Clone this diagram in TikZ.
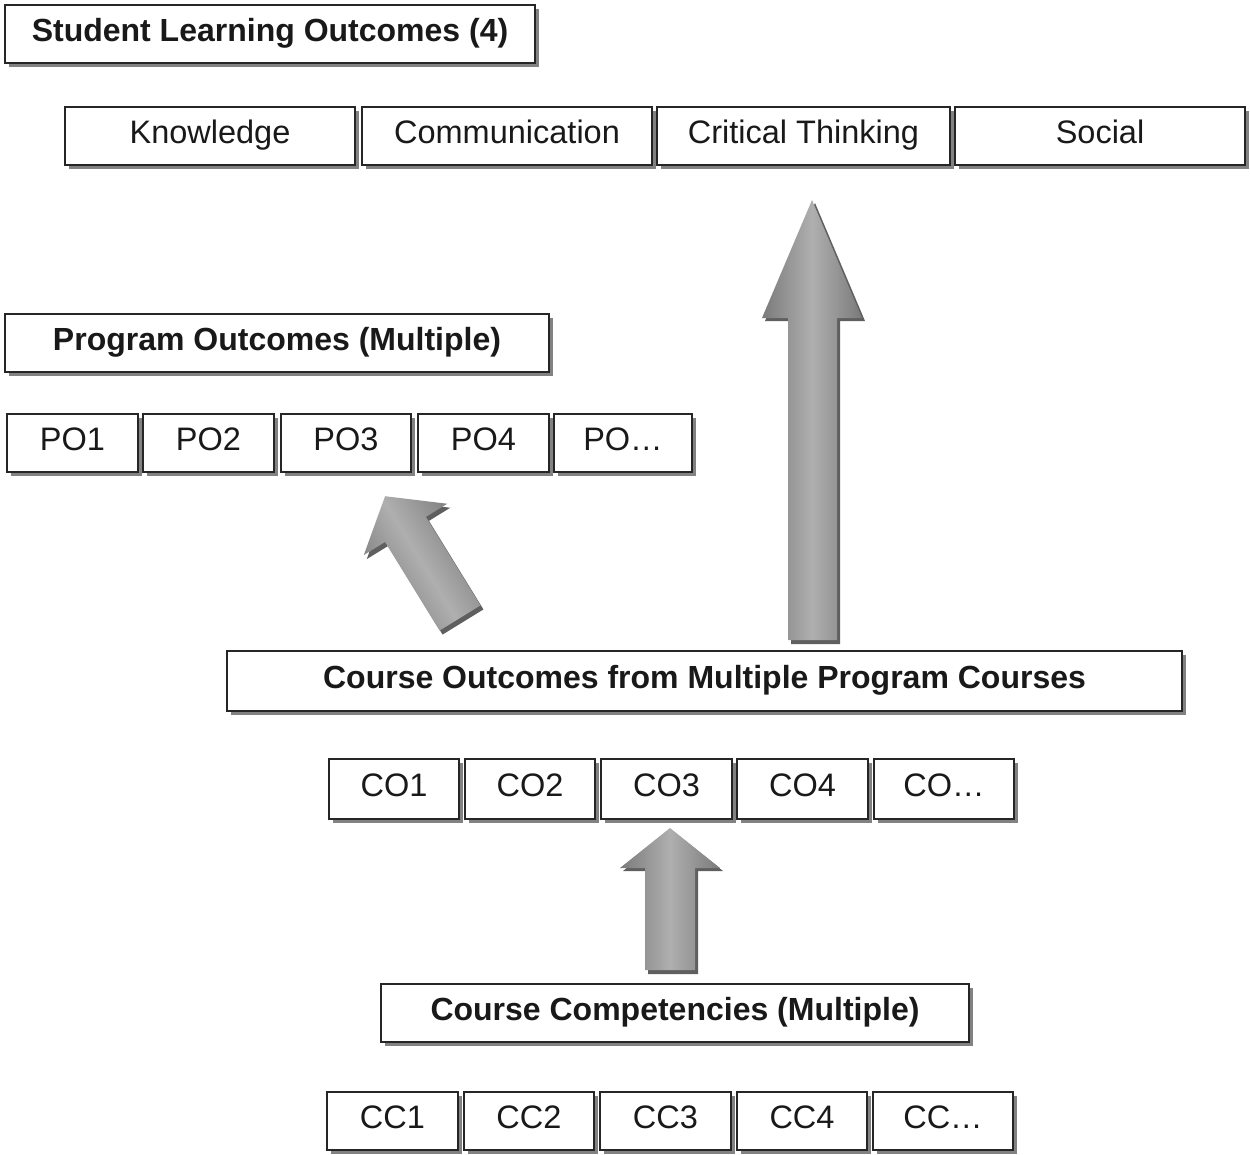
\documentclass[tikz,border=0pt]{standalone}
\usepackage{fontspec}
\setmainfont{Liberation Sans}
\usetikzlibrary{shadows}
\definecolor{arredge}{RGB}{122,122,122}
\definecolor{arrmid}{RGB}{175,175,175}
\definecolor{arrshadow}{RGB}{95,95,95}
\definecolor{boxshadow}{RGB}{130,130,130}
\begin{document}
\begin{tikzpicture}[x=1pt,y=1pt,
  box/.style={draw=black!85, line width=1.4pt, fill=white, inner sep=0pt,
    drop shadow={shadow xshift=4pt, shadow yshift=-4pt, fill=boxshadow, opacity=1},
    font=\fontsize{32.5}{38}\selectfont, text=black!90,
    text height=23pt, text depth=9pt},
  headbox/.style={box, font=\fontsize{32}{38}\selectfont\bfseries},
  blockarrow/.style={left color=arredge, right color=arredge, middle color=arrmid, draw=none},
  arrowshadow/.style={fill=arrshadow, draw=none}]
\useasboundingbox (0,0) rectangle (1250,-1154);

% Student Learning Outcomes
\node[headbox, minimum width=530, minimum height=58] (slo) at (270,-34) {Student Learning Outcomes (4)};
\node[box, minimum width=290, minimum height=58] (know) at (210,-136) {Knowledge};
\node[box, minimum width=290, minimum height=58] (comm) at (507,-136) {Communication};
\node[box, minimum width=293, minimum height=58] (crit) at (803.5,-136) {Critical Thinking};
\node[box, minimum width=290, minimum height=58] (soc) at (1100,-136) {Social};

% Program Outcomes
\node[headbox, minimum width=544, minimum height=58] (po) at (277,-343) {Program Outcomes (Multiple)};
\node[box, minimum width=131, minimum height=58] (po1) at (72.5,-443) {PO1};
\node[box, minimum width=131, minimum height=58] (po2) at (208.5,-443) {PO2};
\node[box, minimum width=130, minimum height=58] (po3) at (346,-443) {PO3};
\node[box, minimum width=131, minimum height=58] (po4) at (483.5,-443) {PO4};
\node[box, minimum width=138, minimum height=58] (po5) at (623,-443) {PO\ldots};

% Course Outcomes
\node[headbox, minimum width=955, minimum height=60] (co) at (704.5,-681) {Course Outcomes from Multiple Program Courses};
\node[box, minimum width=130, minimum height=60] (co1) at (394,-789) {CO1};
\node[box, minimum width=130, minimum height=60] (co2) at (530,-789) {CO2};
\node[box, minimum width=131, minimum height=60] (co3) at (666.5,-789) {CO3};
\node[box, minimum width=131, minimum height=60] (co4) at (802.5,-789) {CO4};
\node[box, minimum width=140, minimum height=60] (co5) at (944,-789) {CO\ldots};

% Course Competencies
\node[headbox, minimum width=588, minimum height=58] (cc) at (675,-1013) {Course Competencies (Multiple)};
\node[box, minimum width=131, minimum height=58] (cc1) at (392.5,-1121) {CC1};
\node[box, minimum width=130, minimum height=58] (cc2) at (529,-1121) {CC2};
\node[box, minimum width=131, minimum height=58] (cc3) at (665.5,-1121) {CC3};
\node[box, minimum width=130, minimum height=58] (cc4) at (802,-1121) {CC4};
\node[box, minimum width=140, minimum height=58] (cc5) at (943,-1121) {CC\ldots};

% Big vertical arrow (course outcomes -> SLO)
\fill[arrowshadow] (791,-644) -- (791,-321) -- (765,-321) -- (815,-203) -- (865,-321) -- (840,-321) -- (840,-644) -- cycle;
\path[blockarrow] (788,-640) -- (788,-318) -- (762,-318) -- (812,-200) -- (862,-318) -- (837,-318) -- (837,-640) -- cycle;

% Small vertical arrow (CC -> CO)
\fill[arrowshadow] (648,-974) -- (648,-871) -- (623,-871) -- (673,-831) -- (723,-871) -- (698,-871) -- (698,-974) -- cycle;
\path[blockarrow] (645,-970) -- (645,-868) -- (620,-868) -- (670,-828) -- (720,-868) -- (695,-868) -- (695,-970) -- cycle;

% Tilted arrow (course outcomes -> PO)
\begin{scope}[shift={(463,-622)}, rotate=31.6]
\fill[arrowshadow] (-24,0) -- (-24,104) -- (-49,104) -- (0,143) -- (49,104) -- (24,104) -- (24,0) -- cycle;
\end{scope}
\begin{scope}[shift={(460,-618)}, rotate=31.6]
\path[blockarrow, shading angle=121.6] (-24,0) -- (-24,104) -- (-49,104) -- (0,143) -- (49,104) -- (24,104) -- (24,0) -- cycle;
\end{scope}
\end{tikzpicture}
\end{document}
